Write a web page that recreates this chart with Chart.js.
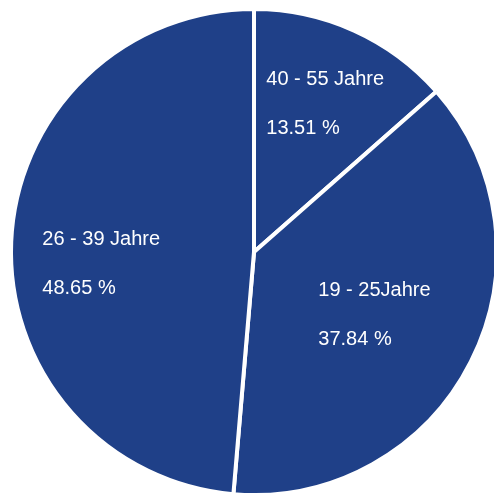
<!DOCTYPE html>
<html>
<head>
<meta charset="utf-8">
<script src="https://cdn.jsdelivr.net/npm/chart.js@4.4.1/dist/chart.umd.min.js"></script>
<style>
    html, body { margin: 0; padding: 0; background: #fff; overflow: hidden; }
    #box { position: absolute; left: 1px; top: -2px; width: 506px; height: 508px; }
</style>
</head>
<body>
<div id="box"><canvas id="age-pie"></canvas></div>
<script>
const ageGroups = ['40 - 55 Jahre', '19 - 25Jahre', '26 - 39 Jahre'];
const respondents = [5, 14, 18];

// where each slice label sits: fraction of radius, and a small turn in degrees
const labelRadius = [0.685, 0.555, 0.63];
const labelTurn = [1, 0, -6];

const pieLabels = {
    id: 'pieLabels',
    afterDatasetsDraw(chart) {
        const ctx = chart.ctx;
        const meta = chart.getDatasetMeta(0);
        const values = chart.data.datasets[0].data;
        const total = values.reduce((a, b) => a + b, 0);

        ctx.save();
        ctx.fillStyle = '#ffffff';
        ctx.font = '20px "Liberation Sans", Arial, sans-serif';
        ctx.textBaseline = 'alphabetic';
        ctx.textAlign = 'left';

        meta.data.forEach((arc, i) => {
            const p = arc.getProps(['x', 'y', 'startAngle', 'endAngle', 'outerRadius'], true);
            const mid = (p.startAngle + p.endAngle) / 2 + labelTurn[i] * Math.PI / 180;
            const r = p.outerRadius * labelRadius[i];
            const cx = p.x + Math.cos(mid) * r;
            const cy = p.y + Math.sin(mid) * r;

            const name = chart.data.labels[i];
            const pct = (values[i] / total * 100).toFixed(2) + ' %';
            const left = cx - ctx.measureText(name).width / 2;

            ctx.fillText(name, left, cy - 17);
            ctx.fillText(pct, left, cy + 32);
        });
        ctx.restore();
    }
};

const config = {
    type: 'pie',
    data: {
        labels: ageGroups,
        datasets: [{
            data: respondents,
            backgroundColor: '#1f4088',
            borderColor: '#ffffff',
            borderWidth: 4,
            hoverOffset: 0,
            offset: 0
        }]
    },
    options: {
        responsive: true,
        maintainAspectRatio: false,
        animation: false,
        layout: {
            padding: 8
        },
        plugins: {
            legend: { display: false },
            tooltip: { enabled: false }
        }
    },
    plugins: [pieLabels]
};

new Chart(document.getElementById('age-pie'), config);
</script>
</body>
</html>
